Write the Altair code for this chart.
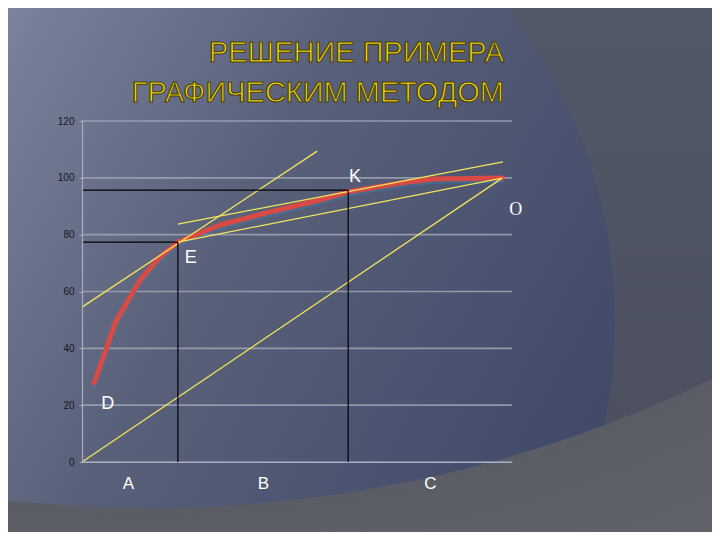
import altair as alt
import pandas as pd

# ---- data ----
red_x = [2.8, 5.8, 7.7, 10.5, 13.5, 18.1, 22.3, 32.1, 43.7, 55.3, 61.6, 74.0, 81.6, 97.7]
red_y = [27.8, 40.5, 48.9, 56.3, 64.0, 72.1, 77.4, 83.4, 88.0, 92.2, 95.0, 98.2, 99.6, 99.9]

# yellow straight lines (start / end points)
line_names = ["OD", "tanE", "tanK", "EO"]
line_x0 = [0.0, 0.0, 22.3, 22.3]
line_y0 = [0.0, 54.5, 83.7, 77.4]
line_x1 = [97.7, 54.7, 97.9, 97.7]
line_y1 = [99.9, 109.4, 105.6, 99.9]

# guide points E and K
guide_x = [22.3, 61.9]
guide_y = [77.4, 95.7]

pt_labels = ["K", "E", "D"]
pt_x = [63.5, 25.3, 6.0]
pt_y = [100.3, 71.8, 20.4]

o_label = ["O"]
o_x = [100.9]
o_y = [88.7]

cat_labels = ["A", "B", "C"]
cat_pos = [10.7, 42.1, 80.9]

y_ticks = [0, 20, 40, 60, 80, 100, 120]

title_1 = "РЕШЕНИЕ ПРИМЕРА"
title_2 = "ГРАФИЧЕСКИМ МЕТОДОМ"

# ---- tables ----
red_df = pd.DataFrame({"x": red_x, "y": red_y, "o": range(len(red_x))})
rows = []
for n, a, b, c, d in zip(line_names, line_x0, line_y0, line_x1, line_y1):
    rows.append({"seg": n, "x": a, "y": b, "o": 0})
    rows.append({"seg": n, "x": c, "y": d, "o": 1})
yl_df = pd.DataFrame(rows)
guide_df = pd.DataFrame({"gx": guide_x, "gy": guide_y, "zero": [0, 0]})
pt_df = pd.DataFrame({"x": pt_x, "y": pt_y, "t": pt_labels})
o_df = pd.DataFrame({"x": o_x, "y": o_y, "t": o_label})
grid_df = pd.DataFrame({"y": y_ticks})
one_df = pd.DataFrame({"k": [0]})

W, H = 430, 341
PL, PT, PR, PB = 74, 113, 200, 70

xscale = alt.Scale(domain=[0, 100], nice=False, zero=False)
yscale = alt.Scale(domain=[0, 120], nice=False)

label_expr = "datum.value < 20 ? 'A' : (datum.value < 60 ? 'B' : 'C')"

X = alt.X("x:Q", scale=xscale, title=None,
          axis=alt.Axis(values=cat_pos, labelExpr=label_expr, grid=False, ticks=False,
                        domainColor="#a8adbf", domainWidth=1.2, labelColor="white",
                        labelFontSize=17, labelFont="Liberation Sans", labelPadding=13,
                        zindex=1))
Y = alt.Y("y:Q", scale=yscale, title=None,
          axis=alt.Axis(values=y_ticks, grid=False, ticks=True, tickSize=3, tickColor="#a8adbf",
                        domainColor="#a8adbf", domainWidth=1.2, labelColor="#15171f",
                        labelFontSize=10, labelFont="Liberation Sans", labelPadding=5,
                        zindex=1))

# ---- decorative background ----
bg = alt.Chart(one_df).mark_rect(
    fill=alt.LinearGradient(
        gradient="linear", x1=0, y1=0, x2=0, y2=1,
        stops=[alt.GradientStop(offset=0, color="#535869"),
               alt.GradientStop(offset=1, color="#4a4e5d")]),
    clip=False
).encode(x=alt.value(-PL), x2=alt.value(W + PR), y=alt.value(-PT), y2=alt.value(H + PB))

blob = alt.Chart(one_df).mark_arc(
    theta=0, theta2=6.2832, radius=503, clip=False,
    fill=alt.LinearGradient(
        gradient="linear", x1=0.38, y1=0.2, x2=1, y2=0.55,
        stops=[alt.GradientStop(offset=0, color="#7c839d"),
               alt.GradientStop(offset=0.45, color="#586079"),
               alt.GradientStop(offset=1, color="#414a69")])
).encode(x=alt.value(30), y=alt.value(199))

swoosh = alt.Chart(one_df).mark_arc(
    theta=0, theta2=6.2832, radius=2400, innerRadius=1288, clip=False,
    fill=alt.RadialGradient(
        gradient="radial", x1=0.5, y1=0.5, r1=0, x2=0.5, y2=0.5, r2=0.5,
        stops=[alt.GradientStop(offset=0.536, color="#5a5d66"),
               alt.GradientStop(offset=0.6, color="#616469")])
).encode(x=alt.value(68), y=alt.value(-901))

grid = alt.Chart(grid_df).mark_rule(color="#a4a9bb", strokeWidth=1.6, opacity=0.8).encode(
    y=alt.Y("y:Q", scale=yscale), x=alt.value(0), x2=alt.value(W))

# ---- data marks ----
shadow = alt.Chart(red_df).mark_line(color="#3f78a6", strokeWidth=4, opacity=0.5,
                                     yOffset=3, strokeCap="round").encode(
    x=alt.X("x:Q", scale=xscale), y=alt.Y("y:Q", scale=yscale), order="o:Q")

red = alt.Chart(red_df).mark_line(color="#da4a45", strokeWidth=5, strokeCap="round",
                                  strokeJoin="round").encode(x=X, y=Y, order="o:Q")

yellow = alt.Chart(yl_df).mark_line(color="#f0e65a", strokeWidth=1.3).encode(
    x=alt.X("x:Q", scale=xscale), y=alt.Y("y:Q", scale=yscale),
    detail="seg:N", order="o:Q")

hrule = alt.Chart(guide_df).mark_rule(color="black", strokeWidth=1.2).encode(
    x=alt.X("zero:Q", scale=xscale), x2="gx:Q",
    y=alt.Y("gy:Q", scale=yscale))
vrule = alt.Chart(guide_df).mark_rule(color="black", strokeWidth=1.2).encode(
    x=alt.X("gx:Q", scale=xscale),
    y=alt.Y("zero:Q", scale=yscale), y2="gy:Q")

pts = alt.Chart(pt_df).mark_text(color="white", fontSize=18, font="Liberation Sans",
                                 align="center", baseline="middle").encode(
    x=alt.X("x:Q", scale=xscale), y=alt.Y("y:Q", scale=yscale), text="t:N")
olab = alt.Chart(o_df).mark_text(color="white", fontSize=18, font="Liberation Serif",
                                 align="center", baseline="middle").encode(
    x=alt.X("x:Q", scale=xscale), y=alt.Y("y:Q", scale=yscale), text="t:N")

t1 = alt.Chart(one_df).mark_text(text=title_1, fill="#f2dc10", stroke="#4a3c08",
                                 strokeWidth=1.1, fontSize=29, font="Liberation Sans",
                                 align="right", baseline="alphabetic", clip=False).encode(
    x=alt.value(422), y=alt.value(-59))
t2 = alt.Chart(one_df).mark_text(text=title_2, fill="#f2dc10", stroke="#4a3c08",
                                 strokeWidth=1.1, fontSize=29, font="Liberation Sans",
                                 align="right", baseline="alphabetic", clip=False).encode(
    x=alt.value(422), y=alt.value(-19))

chart = alt.layer(
    bg, blob, swoosh, grid, shadow, red, yellow, hrule, vrule, pts, olab, t1, t2
).properties(
    width=W, height=H,
    autosize=alt.AutoSizeParams(type="none"),
    padding={"left": PL, "top": PT, "right": PR, "bottom": PB},
    background="#4f5569"
).configure_view(stroke=None)

chart.save("out.html", embed_options={"renderer": "svg", "actions": False})
